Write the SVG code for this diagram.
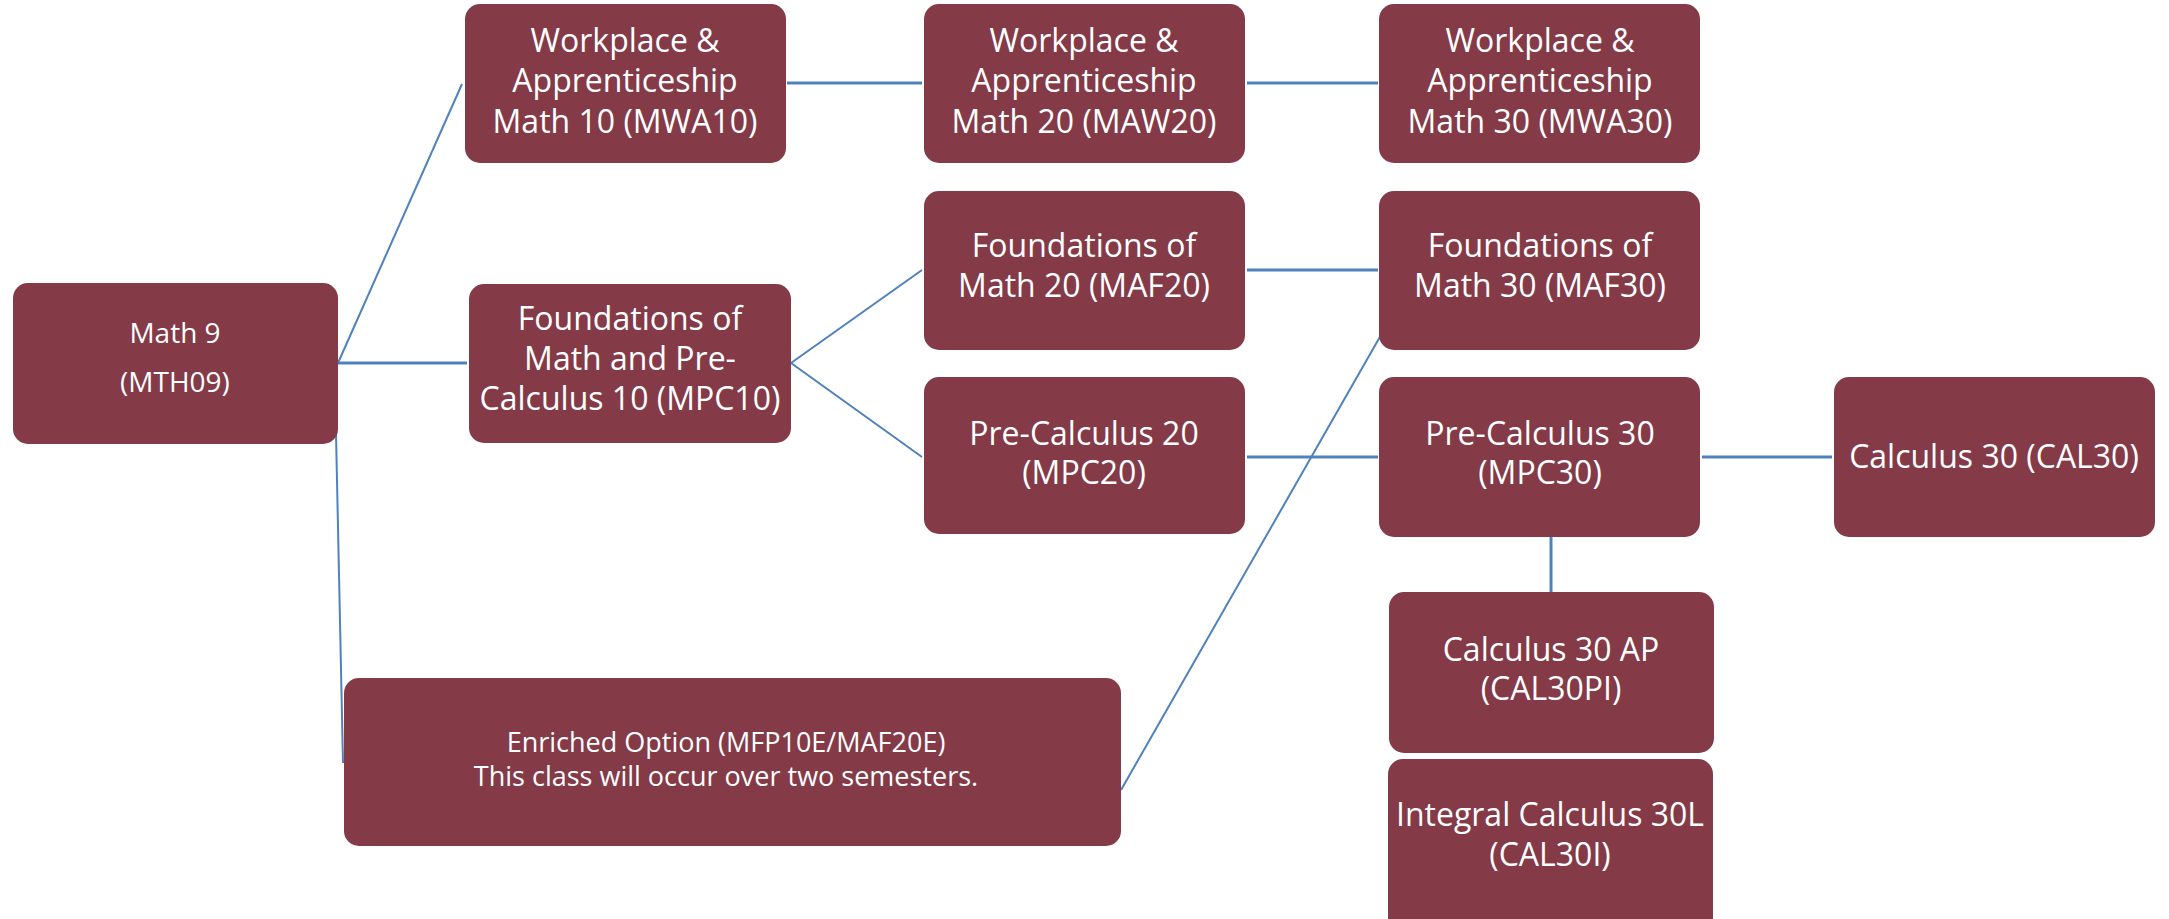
<svg xmlns="http://www.w3.org/2000/svg" width="2169" height="919" viewBox="0 0 2169 919">
<style>
.box{fill:#843A47;}
.t{fill:#ffffff;font-family:"Open Sans","Noto Sans","DejaVu Sans",sans-serif;font-size:32px;text-anchor:middle;}
.ts{font-size:28px;}
.te{font-size:27px;}
.c{stroke:#4F81BD;fill:none;stroke-width:3;}
.c2{stroke:#4F81BD;fill:none;stroke-width:2;}
</style>
<rect width="2169" height="919" fill="#ffffff"/>
<g id="connectors">
<line class="c" x1="338" y1="363" x2="467" y2="363"/>
<line class="c2" x1="338" y1="363" x2="462" y2="84"/>
<line class="c2" x1="336" y1="433" x2="343" y2="763"/>
<line class="c" x1="787" y1="83" x2="922" y2="83"/>
<line class="c" x1="1247" y1="83" x2="1378" y2="83"/>
<line class="c2" x1="791" y1="363" x2="922" y2="270"/>
<line class="c2" x1="791" y1="363" x2="922" y2="457"/>
<line class="c" x1="1247" y1="270" x2="1378" y2="270"/>
<line class="c" x1="1247" y1="457" x2="1378" y2="457"/>
<line class="c" x1="1702" y1="457" x2="1832" y2="457"/>
<line class="c2" x1="1121" y1="790" x2="1381" y2="335" stroke-width="1.6"/>
<line class="c" x1="1551" y1="537" x2="1551" y2="607" stroke-width="4"/>
</g>
<g id="math9">
<rect class="box" x="13" y="283" width="325" height="161" rx="15"/>
<text class="t ts" x="175" y="343">Math 9</text>
<text class="t ts" x="175" y="392">(MTH09)</text>
</g>
<g id="mwa10">
<rect class="box" x="465" y="4" width="321" height="159" rx="15"/>
<text class="t" x="625" y="52">Workplace &amp;</text>
<text class="t" x="625" y="92">Apprenticeship</text>
<text class="t" x="625" y="133">Math 10 (MWA10)</text>
</g>
<g id="maw20">
<rect class="box" x="924" y="4" width="321" height="159" rx="15"/>
<text class="t" x="1084" y="52">Workplace &amp;</text>
<text class="t" x="1084" y="92">Apprenticeship</text>
<text class="t" x="1084" y="133">Math 20 (MAW20)</text>
</g>
<g id="mwa30">
<rect class="box" x="1379" y="4" width="321" height="159" rx="15"/>
<text class="t" x="1540" y="52">Workplace &amp;</text>
<text class="t" x="1540" y="92">Apprenticeship</text>
<text class="t" x="1540" y="133">Math 30 (MWA30)</text>
</g>
<g id="mpc10">
<rect class="box" x="469" y="284" width="322" height="159" rx="15"/>
<text class="t" x="630" y="330">Foundations of</text>
<text class="t" x="630" y="370">Math and Pre-</text>
<text class="t" x="630" y="410">Calculus 10 (MPC10)</text>
</g>
<g id="maf20">
<rect class="box" x="924" y="191" width="321" height="159" rx="15"/>
<text class="t" x="1084" y="257">Foundations of</text>
<text class="t" x="1084" y="297">Math 20 (MAF20)</text>
</g>
<g id="mpc20">
<rect class="box" x="924" y="377" width="321" height="157" rx="15"/>
<text class="t" x="1084" y="445">Pre-Calculus 20</text>
<text class="t" x="1084" y="484">(MPC20)</text>
</g>
<g id="maf30">
<rect class="box" x="1379" y="191" width="321" height="159" rx="15"/>
<text class="t" x="1540" y="257">Foundations of</text>
<text class="t" x="1540" y="297">Math 30 (MAF30)</text>
</g>
<g id="mpc30">
<rect class="box" x="1379" y="377" width="321" height="160" rx="15"/>
<text class="t" x="1540" y="445">Pre-Calculus 30</text>
<text class="t" x="1540" y="484">(MPC30)</text>
</g>
<g id="cal30">
<rect class="box" x="1834" y="377" width="321" height="160" rx="15"/>
<text class="t" x="1994" y="468">Calculus 30 (CAL30)</text>
</g>
<g id="cal30pi">
<rect class="box" x="1389" y="592" width="325" height="161" rx="15"/>
<text class="t" x="1551" y="661">Calculus 30 AP</text>
<text class="t" x="1551" y="700">(CAL30PI)</text>
</g>
<g id="cal30i">
<rect class="box" x="1388" y="759" width="325" height="180" rx="15"/>
<text class="t" x="1550" y="826">Integral Calculus 30L</text>
<text class="t" x="1550" y="866">(CAL30I)</text>
</g>
<g id="enriched">
<rect class="box" x="344" y="678" width="777" height="168" rx="15"/>
<text class="t te" x="726" y="752">Enriched Option (MFP10E/MAF20E)</text>
<text class="t te" x="726" y="786">This class will occur over two semesters.</text>
</g>
</svg>
